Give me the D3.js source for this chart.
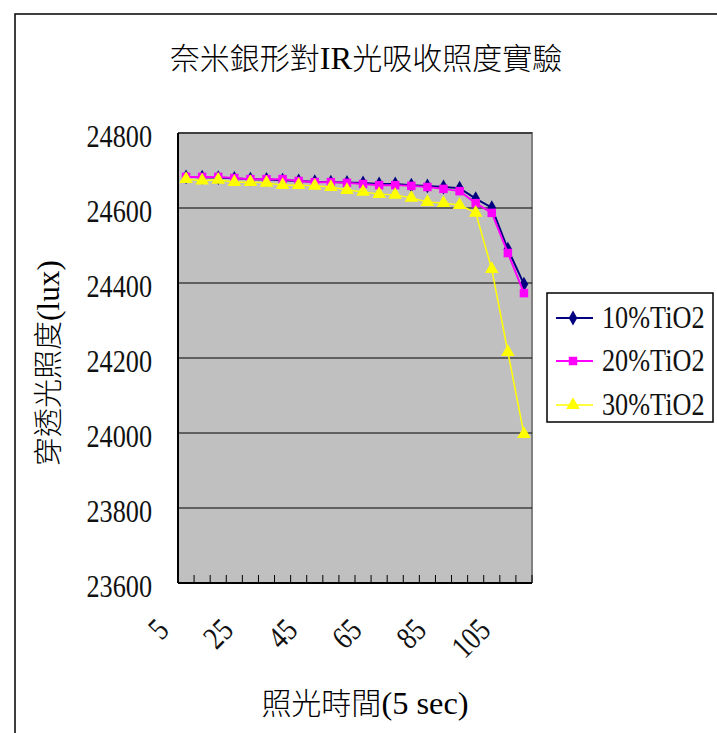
<!DOCTYPE html>
<html>
<head>
<meta charset="utf-8">
<script src="https://cdn.jsdelivr.net/npm/d3@7/dist/d3.min.js"></script>
<style>
  html, body { margin: 0; padding: 0; background: #fff; }
  svg { display: block; }
</style>
</head>
<body>
<svg id="chart" width="717" height="733"></svg>
<script>
// Illuminance readings (lux) taken every 5 seconds
const categories = [5, 10, 15, 20, 25, 30, 35, 40, 45, 50, 55, 60, 65, 70, 75, 80, 85, 90, 95, 100, 105, 110];
const series10 = [24683, 24682, 24681, 24679, 24677, 24676, 24674, 24672, 24670, 24669, 24668, 24667, 24664, 24664, 24661, 24659, 24656, 24653, 24625, 24601, 24490, 24397];
const series20 = [24683, 24683, 24683, 24680, 24677, 24677, 24677, 24672, 24669, 24669, 24667, 24664, 24661, 24661, 24659, 24656, 24651, 24645, 24613, 24587, 24480, 24373];
const series30 = [24677, 24673, 24675, 24669, 24669, 24667, 24661, 24661, 24659, 24656, 24648, 24643, 24637, 24635, 24627, 24616, 24613, 24608, 24587, 24437, 24216, 23997];
const seriesNames = ["10%TiO2", "20%TiO2", "30%TiO2"];
const yTicks = [23600, 23800, 24000, 24200, 24400, 24600, 24800];
const xTickLabels = [5, 25, 45, 65, 85, 105];

// titles as [text, isLatin] runs so Latin parts get the serif face
const titleRuns = [["奈米銀形對", false], ["IR", true], ["光吸收照度實驗", false]];
const yTitleRuns = [["穿透光照度", false], ["(lux)", true]];
const xTitleRuns = [["照光時間", false], ["(5 sec)", true]];

const svg = d3.select("#chart");
const cjk = "'Noto Sans CJK TC', 'Noto Sans CJK SC', sans-serif";
const serif = "'Liberation Serif', 'Times New Roman', serif";
const latinScaleX = 0.82;

// outer chart frame
svg.append("rect")
  .attr("x", 15).attr("y", 14).attr("width", 720).attr("height", 740)
  .attr("fill", "#fff").attr("stroke", "#000").attr("stroke-width", 1.5);

const plot = { left: 178, right: 532, top: 133, bottom: 583 };

const x = d3.scaleBand().domain(categories).range([plot.left, plot.right]).padding(0);
const y = d3.scaleLinear().domain([23600, 24800]).range([plot.bottom, plot.top]);

// plot background
svg.append("rect")
  .attr("x", plot.left).attr("y", plot.top)
  .attr("width", plot.right - plot.left).attr("height", plot.bottom - plot.top)
  .attr("fill", "#c0c0c0");

// top and right plot border
svg.append("path")
  .attr("d", `M${plot.left},${plot.top}H${plot.right}V${plot.bottom}`)
  .attr("fill", "none").attr("stroke", "#808080").attr("stroke-width", 2);

// horizontal gridlines
svg.append("g").selectAll("line")
  .data(yTicks.filter(v => v !== 23600))
  .join("line")
  .attr("x1", plot.left).attr("x2", plot.right)
  .attr("y1", d => y(d)).attr("y2", d => y(d))
  .attr("stroke", "#000").attr("stroke-width", 1);

// y axis
svg.append("line")
  .attr("x1", plot.left).attr("x2", plot.left)
  .attr("y1", plot.top).attr("y2", plot.bottom)
  .attr("stroke", "#000").attr("stroke-width", 2);

svg.append("g").selectAll("text")
  .data(yTicks)
  .join("text")
  .attr("transform", d => `translate(${plot.left - 26},${y(d) + 14}) scale(${latinScaleX},1)`)
  .attr("text-anchor", "end")
  .attr("font-family", serif).attr("font-size", 32).attr("fill", "#111")
  .text(d => d);

// x axis with inward ticks at category boundaries
svg.append("line")
  .attr("x1", plot.left).attr("x2", plot.right)
  .attr("y1", plot.bottom).attr("y2", plot.bottom)
  .attr("stroke", "#000").attr("stroke-width", 2);

const boundaries = categories.map(c => x(c)).concat([x(categories[categories.length - 1]) + x.bandwidth()]);
svg.append("g").selectAll("line")
  .data(boundaries)
  .join("line")
  .attr("x1", d => d).attr("x2", d => d)
  .attr("y1", plot.bottom).attr("y2", plot.bottom - 8)
  .attr("stroke", "#000").attr("stroke-width", 1);

svg.append("g").selectAll("text")
  .data(xTickLabels)
  .join("text")
  .attr("transform", d => `translate(${x(d) + x.bandwidth() / 2 - 15.5},632) rotate(-45) scale(${latinScaleX},1)`)
  .attr("text-anchor", "end")
  .attr("font-family", serif).attr("font-size", 32).attr("fill", "#111")
  .text(d => d);

// series lines and markers
const cx = c => x(c) + x.bandwidth() / 2;
const seriesData = [
  { name: seriesNames[0], values: series10, color: "#000080", shape: d3.symbolDiamond, size: 64, width: 2 },
  { name: seriesNames[1], values: series20, color: "#ff00ff", shape: d3.symbolSquare, size: 72, width: 2 },
  { name: seriesNames[2], values: series30, color: "#ffff00", shape: d3.symbolTriangle, size: 80, width: 1.5 }
];

const line = d3.line().x((d, i) => cx(categories[i])).y(d => y(d));

seriesData.forEach(s => {
  const g = svg.append("g");
  g.append("path")
    .attr("d", line(s.values))
    .attr("fill", "none").attr("stroke", s.color).attr("stroke-width", s.width);
  g.selectAll("path.m")
    .data(s.values)
    .join("path").attr("class", "m")
    .attr("transform", (d, i) => `translate(${cx(categories[i])},${y(d)})`)
    .attr("d", d3.symbol().type(s.shape).size(s.size))
    .attr("fill", s.color);
});

// legend
const legend = svg.append("g");
legend.append("rect")
  .attr("x", 547).attr("y", 293).attr("width", 166).attr("height", 129)
  .attr("fill", "#fff").attr("stroke", "#000").attr("stroke-width", 1.5);

const rowsY = [318, 361, 405];
seriesData.forEach((s, i) => {
  const ry = rowsY[i];
  legend.append("line")
    .attr("x1", 556).attr("x2", 593).attr("y1", ry).attr("y2", ry)
    .attr("stroke", s.color).attr("stroke-width", s.width);
  legend.append("path")
    .attr("transform", `translate(573,${ry})`)
    .attr("d", d3.symbol().type(s.shape).size(s.size))
    .attr("fill", s.color);
  legend.append("text")
    .attr("transform", `translate(602,${ry + 10}) scale(${latinScaleX},1)`)
    .attr("font-family", serif).attr("font-size", 32).attr("fill", "#111")
    .text(s.name);
});

// titles
function runsText(sel, runs, size) {
  sel.selectAll("tspan")
    .data(runs)
    .join("tspan")
    .attr("font-family", d => d[1] ? serif : cjk)
    .attr("font-weight", d => d[1] ? 400 : 300)
    .attr("font-size", d => d[1] ? size * 1.08 : size)
    .text(d => d[0]);
}

svg.append("text")
  .attr("x", 366).attr("y", 69)
  .attr("text-anchor", "middle").attr("fill", "#000")
  .call(runsText, titleRuns, 30);

svg.append("text")
  .attr("transform", `translate(59,363) rotate(-90)`)
  .attr("text-anchor", "middle").attr("fill", "#000")
  .call(runsText, yTitleRuns, 29);

svg.append("text")
  .attr("x", 365).attr("y", 714)
  .attr("text-anchor", "middle").attr("fill", "#000")
  .call(runsText, xTitleRuns, 30);
</script>
</body>
</html>
